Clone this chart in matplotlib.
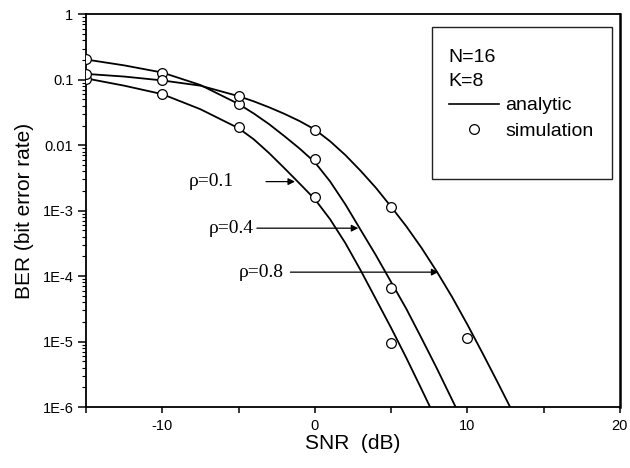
import numpy as np
import matplotlib
matplotlib.use("Agg")
import matplotlib.pyplot as plt
from matplotlib.patches import Rectangle
from matplotlib.lines import Line2D
from matplotlib.ticker import FixedLocator, LogLocator, NullFormatter

plt.rcParams['font.family'] = ['Liberation Sans', 'DejaVu Sans']
plt.rcParams['axes.unicode_minus'] = False

# analytic curves (SNR in dB, BER)
snr_a01 = [-15, -12.5, -10, -7.5, -5, -4, -3, -2, -1, 0, 1, 2, 3, 4, 5, 6, 7, 7.6]
ber_a01 = [0.105, 0.0813, 0.0603, 0.0355, 0.0182, 0.0123, 7.59e-3, 4.47e-3,
           2.6e-3, 1.5e-3, 7.4e-4, 3.2e-4, 1.23e-4, 4.47e-5, 1.62e-5,
           5.62e-6, 1.86e-6, 9.5e-7]

snr_a04 = [-15, -12.5, -10, -7.5, -5, -4, -3, -2, -1, 0, 1, 2, 3, 4, 5, 6, 7, 8, 9, 9.25]
ber_a04 = [0.204, 0.166, 0.129, 0.0832, 0.0427, 0.0305, 0.021, 0.0138,
           8.9e-3, 5.5e-3, 2.8e-3, 1.25e-3, 5.1e-4, 2.09e-4, 8.13e-5,
           3.16e-5, 1.12e-5, 3.89e-6, 1.29e-6, 9.8e-7]

snr_a08 = [-15, -12.5, -10, -7.5, -5, -4, -3, -2, -1, 0, 1, 2, 3, 4, 5, 6,
           7, 8, 9, 10, 11, 12, 12.85]
ber_a08 = [0.123, 0.112, 0.0977, 0.0813, 0.0562, 0.0468, 0.038, 0.0302,
           0.0234, 0.0174, 0.0115, 7.08e-3, 4.07e-3, 2.24e-3, 1.15e-3,
           5.75e-4, 2.69e-4, 1.17e-4, 4.79e-5, 1.82e-5, 6.61e-6, 2.34e-6, 9.5e-7]

# simulation points
snr_s01 = [-15, -10, -5, 0, 5]
ber_s01 = [0.104, 0.06, 0.019, 1.6e-3, 9.4e-6]
snr_s04 = [-15, -10, -5, 0, 5]
ber_s04 = [0.206, 0.129, 0.042, 6.2e-3, 6.5e-5]
snr_s08 = [-15, -10, -5, 0, 5, 10]
ber_s08 = [0.124, 0.098, 0.056, 0.017, 1.14e-3, 1.14e-5]

rho_labels = ['\u03c1=0.1', '\u03c1=0.4', '\u03c1=0.8']

fig = plt.figure(figsize=(6.3, 4.68), dpi=100)
ax = fig.add_axes([0.1365, 0.1303, 0.8475, 0.8391])

for snr, ber in [(snr_a01, ber_a01), (snr_a04, ber_a04), (snr_a08, ber_a08)]:
    ax.plot(snr, ber, color='black', lw=1.3, zorder=2)
for snr, ber in [(snr_s01, ber_s01), (snr_s04, ber_s04), (snr_s08, ber_s08)]:
    ax.plot(snr, ber, ls='none', marker='o', ms=7, mfc='white', mec='black',
            mew=0.9, zorder=3)

ax.set_yscale('log')
ax.set_xlim(-15, 20)
ax.set_ylim(1e-6, 1)

ax.xaxis.set_major_locator(FixedLocator([-10, 0, 10, 20]))
ax.xaxis.set_minor_locator(FixedLocator([-15, -5, 5, 15]))
ax.yaxis.set_minor_locator(LogLocator(base=10, subs=np.arange(2, 10), numticks=10))
ax.yaxis.set_minor_formatter(NullFormatter())
ax.set_yticks([1e-6, 1e-5, 1e-4, 1e-3, 1e-2, 1e-1, 1])
ax.set_yticklabels(['1E-6', '1E-5', '1E-4', '1E-3', '0.01', '0.1', '1'])

ax.tick_params(axis='x', which='both', direction='out', length=4.5, width=1.1,
               labelsize=10.5, pad=4)
ax.tick_params(axis='y', which='major', direction='out', length=6, width=1.1,
               labelsize=10.5, pad=3)
ax.tick_params(axis='y', which='minor', direction='out', length=3, width=0.8)

for side in ['left', 'bottom', 'top']:
    ax.spines[side].set_linewidth(1.3)
ax.spines['right'].set_linewidth(1.8)

ax.set_xlabel('SNR  (dB)', fontsize=15, labelpad=1)
ax.set_ylabel('BER (bit error rate)', fontsize=15, labelpad=6)

# rho annotations: text, then arrow to its curve
arrows = [((-3.2, 2.78e-3), (-1.3, 2.78e-3), -5.3),
          ((-3.8, 5.4e-4), (2.85, 5.4e-4), -4.0),
          ((-1.6, 1.15e-4), (8.1, 1.15e-4), -2.05)]
for lab, (start, tip, tx) in zip(rho_labels, arrows):
    ax.annotate('', xy=tip, xytext=start,
                arrowprops=dict(arrowstyle='-|>', color='black', lw=0.9,
                                mutation_scale=10, shrinkA=0, shrinkB=0))
    ax.text(tx, start[1], lab, ha='right', va='center', fontsize=14,
            family=['Liberation Serif', 'DejaVu Serif'])

# legend box
ax.add_patch(Rectangle((0.648, 0.5806), 0.337, 0.387, transform=ax.transAxes,
                       fill=False, lw=1.0, ec='#222222', zorder=4))
ax.text(0.678, 0.860, 'N=16\nK=8', transform=ax.transAxes, ha='left',
        va='center', fontsize=14, linespacing=1.5)
handles = [Line2D([], [], color='black', lw=1.2),
           Line2D([], [], ls='none', marker='o', ms=7, mfc='white',
                  mec='black', mew=0.9)]
ax.legend(handles, ['analytic', 'simulation'], loc='upper left',
          bbox_to_anchor=(0.680, 0.790), frameon=False, fontsize=14,
          handlelength=2.58, handletextpad=0.31, labelspacing=0.4,
          borderpad=0, borderaxespad=0)

fig.savefig('out.png', dpi=100)
